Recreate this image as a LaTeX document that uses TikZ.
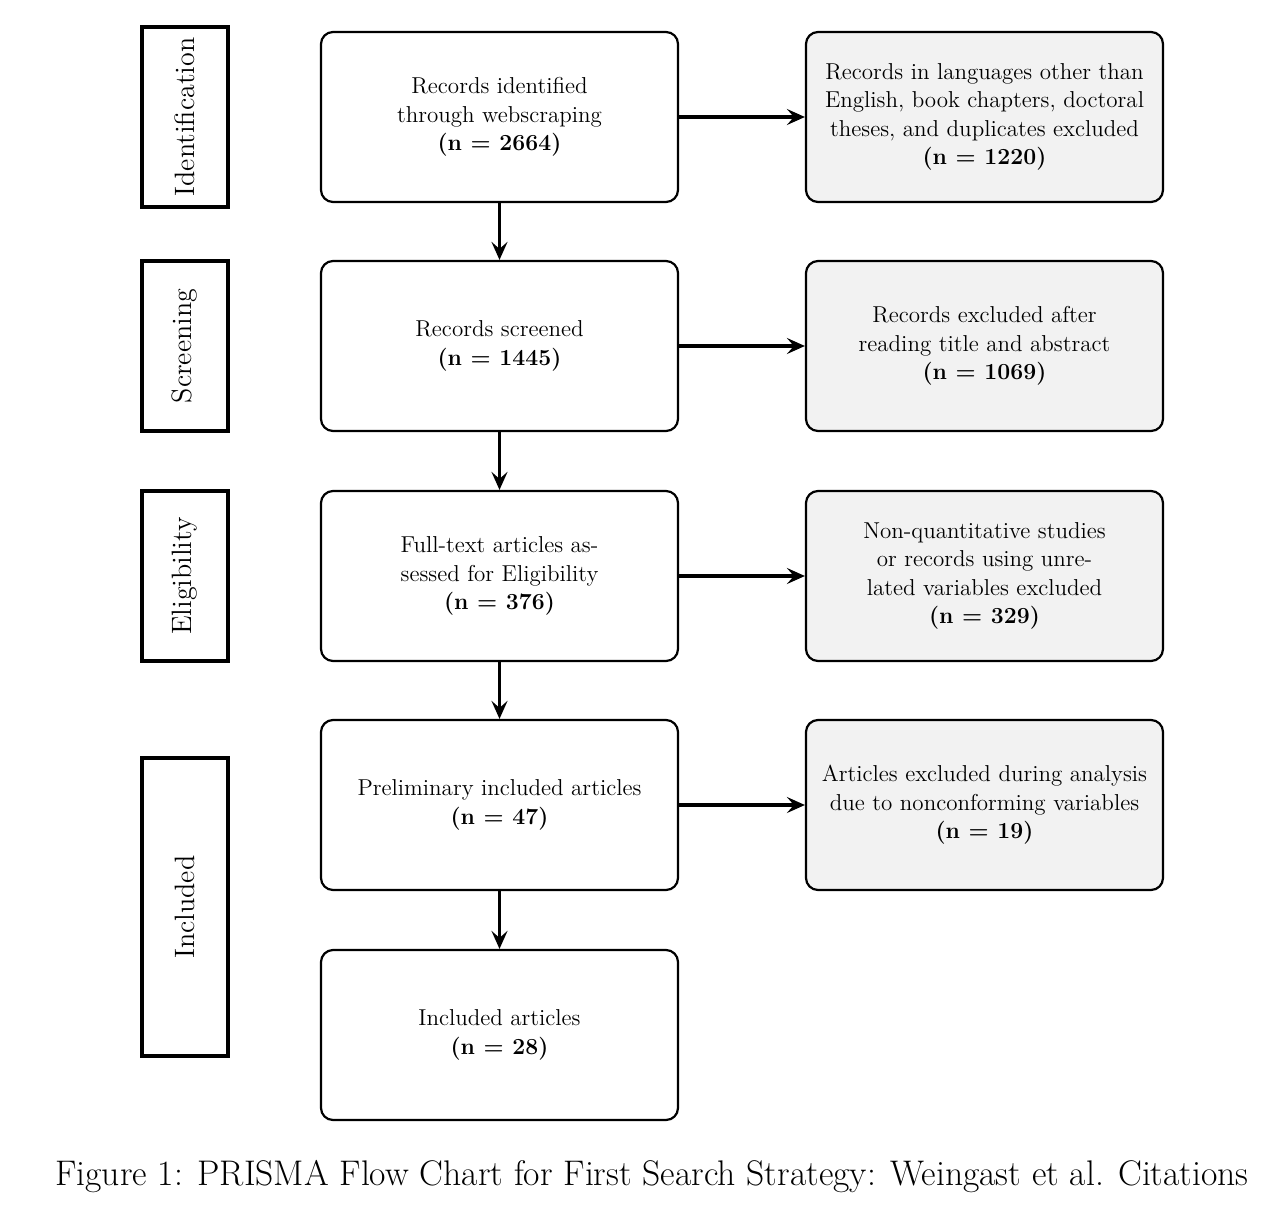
\documentclass[tikz,border=0pt]{standalone}
\usetikzlibrary{arrows.meta}
\definecolor{boxgray}{HTML}{F2F2F2}
\tikzset{
	stagebox/.style={draw, line width=1.6pt, rotate=90, minimum height=43pt, font=\fontsize{14}{16}\selectfont},
	mainbox/.style={draw, line width=1.1pt, rounded corners=6pt, minimum width=178.5pt, minimum height=85pt, align=center, font=\fontsize{11.5}{14.25}\selectfont},
	exclbox/.style={mainbox, fill=boxgray},
	flowarrow/.style={-{Stealth[length=9pt,width=8pt,inset=3.5pt]}, line width=1.9pt}
}

\begin{document}
\begin{tikzpicture}[x=0.5pt, y=-0.5pt]
		%%%%% FRAME %%%%%
		\useasboundingbox (0, 0) rectangle (1288, 1214);
		
		%%%%% STAGES %%%%%
		\node[stagebox, minimum width=90pt] (ident) at (185, 117) {Identification};
		\node[stagebox, minimum width=85pt] (screen) at (185, 346) {Screening};
		\node[stagebox, minimum width=85pt] (elig) at (185, 576) {Eligibility};
		\node[stagebox, minimum width=149pt] (incl) at (185, 907) {Included};
		
		%%%%% MAIN COLUMN %%%%%
		\node[mainbox] (records) at (499.5, 117) {Records identified\\through webscraping\\\textbf{(n = 2664)}};
		\node[mainbox] (screened) at (499.5, 346) {Records screened\\\textbf{(n = 1445)}};
		\node[mainbox] (fulltext) at (499.5, 576) {Full-text articles as-\\sessed for Eligibility\\\textbf{(n = 376)}};
		\node[mainbox] (prelim) at (499.5, 805) {Preliminary included articles\\\textbf{(n = 47)}};
		\node[mainbox] (included) at (499.5, 1035) {Included articles\\\textbf{(n = 28)}};
		
		%%%%% EXCLUDED %%%%%
		\node[exclbox] (excl1) at (984.5, 117) {Records in languages other than\\English, book chapters, doctoral\\theses, and duplicates excluded\\\textbf{(n = 1220)}};
		\node[exclbox] (excl2) at (984.5, 346) {Records excluded after\\reading title and abstract\\\textbf{(n = 1069)}};
		\node[exclbox] (excl3) at (984.5, 576) {Non-quantitative studies\\or records using unre-\\lated variables excluded\\\textbf{(n = 329)}};
		\node[exclbox] (excl4) at (984.5, 805) {Articles excluded during analysis\\due to nonconforming variables\\\textbf{(n = 19)}};
		
		%%%%% ARROWS %%%%%
		\draw[flowarrow] (records) -- (screened);
		\draw[flowarrow] (screened) -- (fulltext);
		\draw[flowarrow] (fulltext) -- (prelim);
		\draw[flowarrow] (prelim) -- (included);
		
		\draw[flowarrow] (records) -- (excl1);
		\draw[flowarrow] (screened) -- (excl2);
		\draw[flowarrow] (fulltext) -- (excl3);
		\draw[flowarrow] (prelim) -- (excl4);
		
		%%%%% CAPTION %%%%%
		\node[font=\fontsize{17.8}{21}\selectfont] (caption) at (652, 1177) {Figure 1: PRISMA Flow Chart for First Search Strategy: Weingast et al. Citations};
	\end{tikzpicture}
\end{document}
